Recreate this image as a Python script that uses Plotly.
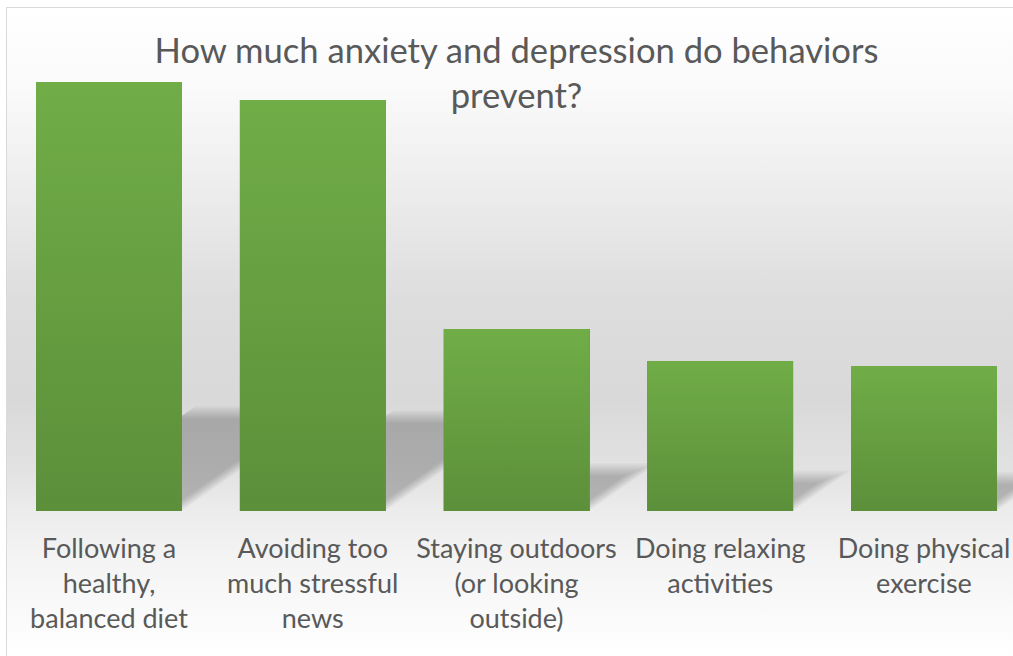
import base64
import plotly.graph_objects as go

# ---------------- data ----------------
categories = [
    "Following a<br>healthy,<br>balanced diet",
    "Avoiding too<br>much stressful<br>news",
    "Staying outdoors<br>(or looking<br>outside)",
    "Doing relaxing<br>activities",
    "Doing physical<br>exercise",
]
values = [42.9, 41.1, 18.2, 15.0, 14.5]
title_text = "How much anxiety and depression do behaviors<br>prevent?"

# ---------------- layout geometry ----------------
W, H = 1013, 656
ML, MT, MB, MR = 6, 7, 145, 0
PLOT_W = W - ML - MR
PLOT_H = H - MT - MB
PX_PER_CAT = 203.75
X0 = -(109 - ML) / PX_PER_CAT
X1 = X0 + PLOT_W / PX_PER_CAT
YMAX = 50.4
PX_PER_Y = PLOT_H / YMAX
BAR_W = 146 / PX_PER_CAT

GREEN_TOP = "#70ad47"
GREEN_BOT = "#5c8f3a"
TXT = "#595959"
FONT = "Lato"

xs = list(range(len(categories)))

fig = go.Figure()
fig.add_trace(go.Bar(x=xs, y=values, width=BAR_W, marker=dict(color="#66a042", line=dict(width=0)),
                     hoverinfo="y", showlegend=False))

# vertical gradient overlay on each bar
for i, v in zip(xs, values):
    a, b = i - BAR_W / 2, i + BAR_W / 2
    fig.add_trace(go.Scatter(
        x=[a, b, b, a, a], y=[0, 0, v, v, 0], mode="lines", fill="toself",
        line=dict(width=0, color="rgba(0,0,0,0)"),
        fillgradient=dict(type="vertical", start=0, stop=v,
                          colorscale=[[0, GREEN_BOT], [1, GREEN_TOP]]),
        hoverinfo="skip", showlegend=False))

# soft perspective shadows behind bars (derived from values)
shapes = []
S = 0.23
SLOPE = 0.7
offsets = [-6, -4, -2, 0, 2, 4, 6]
alpha = 0.034
for i, v in zip(xs, values):
    rise = S * v * PX_PER_Y
    left_px = (i - BAR_W / 2) * PX_PER_CAT + 10
    right_px = (i + BAR_W / 2) * PX_PER_CAT - 8
    for d in offsets:
        r = max(rise + d, 1)
        pts = [
            (left_px, 0),
            (right_px + d * 1.2, 0),
            (right_px + d * 1.2 + r / SLOPE, r),
            (left_px + r / SLOPE, r),
        ]
        path = "M " + " L ".join(f"{px / PX_PER_CAT:.5f},{py / PX_PER_Y:.5f}" for px, py in pts) + " Z"
        shapes.append(dict(type="path", path=path, xref="x", yref="y", layer="below",
                           fillcolor=f"rgba(0,0,0,{alpha})", line=dict(width=0)))

# background gradient + border (svg image)
IW, IH = W - ML, H - MT
stops = [(7, "#ffffff"), (90, "#fafafa"), (200, "#ebebeb"), (300, "#dddddd"), (400, "#d9d9d9"),
         (470, "#e2e2e2"), (511, "#ececec"), (560, "#f4f4f4"), (656, "#ffffff")]
stop_xml = "".join(f'<stop offset="{(y - MT) / IH:.4f}" stop-color="{c}"/>' for y, c in stops)
svg = (f'<svg xmlns="http://www.w3.org/2000/svg" width="{IW}" height="{IH}" viewBox="0 0 {IW} {IH}" preserveAspectRatio="none">'
       f'<defs><linearGradient id="g" x1="0" y1="0" x2="0" y2="1">{stop_xml}</linearGradient></defs>'
       f'<rect x="0" y="0" width="{IW}" height="{IH}" fill="url(#g)"/>'
       f'<line x1="0.5" y1="0" x2="0.5" y2="{IH}" stroke="#d9d9d9" stroke-width="1"/>'
       f'<line x1="0" y1="0.5" x2="{IW}" y2="0.5" stroke="#d9d9d9" stroke-width="1"/>'
       '</svg>')
src = "data:image/svg+xml;base64," + base64.b64encode(svg.encode()).decode()

fig.update_layout(
    width=W, height=H,
    margin=dict(l=ML, r=MR, t=MT, b=MB, pad=0),
    paper_bgcolor="white", plot_bgcolor="rgba(0,0,0,0)",
    bargap=0,
    shapes=shapes,
    images=[dict(source=src, xref="paper", yref="paper", x=0, y=1, sizex=1, sizey=IH / PLOT_H,
                 xanchor="left", yanchor="top", sizing="stretch", layer="below")],
    title=dict(text=title_text, x=(516.5 - ML) / PLOT_W, xref="paper", xanchor="center",
               y=1 - 63 / H, yref="container", yanchor="top",
               font=dict(family=FONT, size=34.6, color=TXT)),
    xaxis=dict(range=[X0, X1], tickmode="array", tickvals=xs, ticktext=categories,
               showgrid=False, zeroline=False, showline=False, ticks="",
               ticklabelstandoff=19,
               tickfont=dict(family=FONT, size=27, color=TXT), fixedrange=True),
    yaxis=dict(range=[0, YMAX], visible=False, fixedrange=True),
    showlegend=False,
)

fig.write_html("out.html", config={"displayModeBar": False},
               post_script="document.body.style.margin='0';document.body.style.overflow='hidden';")
